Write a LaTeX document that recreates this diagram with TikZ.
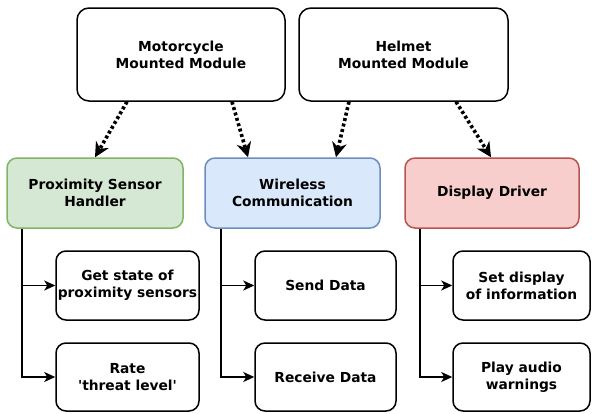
\documentclass[tikz,border=0pt]{standalone}
\usepackage{fontspec}
\setmainfont{DejaVu Sans}[Ligatures=TeXOff]
\usetikzlibrary{arrows.meta,positioning}

\definecolor{greenfill}{HTML}{D5E8D4}
\definecolor{greenline}{HTML}{82B366}
\definecolor{bluefill}{HTML}{DAE8FC}
\definecolor{blueline}{HTML}{6C8EBF}
\definecolor{redfill}{HTML}{F8CECC}
\definecolor{redline}{HTML}{B85450}

\tikzset{
  box/.style={draw=black, fill=white, line width=1.5pt, rounded corners=10pt,
    align=center, font=\fontsize{13.8}{17}\selectfont\bfseries,
    inner sep=0pt},
  modulebox/.style={box, minimum width=208pt, minimum height=93pt, rounded corners=12pt},
  taskbox/.style={box, minimum height=70pt},
  leafbox/.style={box, minimum height=69pt},
  dotarrow/.style={line width=3.6pt, dash pattern=on 3pt off 2.6pt,
    -{Stealth[length=15pt,width=15pt,inset=5pt,line width=0pt]}},
  treearrow/.style={line width=1.6pt, -{Stealth[length=11pt,width=10pt,inset=3pt]}},
}

\begin{document}
\begin{tikzpicture}[x=1pt,y=-1pt]
  \useasboundingbox (0,0) rectangle (592,413);

  % top modules
  \node[modulebox] (mm) at (181,54.5) {Motorcycle\\Mounted Module};
  \node[modulebox, minimum width=209pt] (hm) at (403.5,54.5) {Helmet\\Mounted Module};

  % software components
  \node[taskbox, minimum width=176pt, fill=greenfill, draw=greenline] (ps) at (95,193) {Proximity Sensor\\Handler};
  \node[taskbox, minimum width=175pt, fill=bluefill, draw=blueline] (wc) at (292.5,193) {Wireless\\Communication};
  \node[taskbox, minimum width=174pt, fill=redfill, draw=redline] (dd) at (492,193) {Display Driver};

  % leaf tasks
  \node[leafbox, minimum width=143pt] (g1) at (127.5,285.5) {Get state of\\proximity sensors};
  \node[leafbox, minimum width=143pt, minimum height=68pt] (r1) at (127.5,377) {Rate\\'threat level'};
  \node[leafbox, minimum width=141pt] (sd) at (325.5,285.5) {Send Data};
  \node[leafbox, minimum width=141pt, minimum height=68pt] (rd) at (325.5,377) {Receive Data};
  \node[leafbox, minimum width=137pt] (sdi) at (521.5,285.5) {Set display\\of information};
  \node[leafbox, minimum width=137pt, minimum height=68pt] (pa) at (521.5,377) {Play audio\\warnings};

  % module to component links
  \draw[dotarrow] ([xshift=-54pt]mm.south) -- (ps.north);
  \draw[dotarrow] ([xshift=51pt]mm.south) -- ([xshift=-44.5pt]wc.north);
  \draw[dotarrow] ([xshift=-54.5pt]hm.south) -- ([xshift=43.5pt]wc.north);
  \draw[dotarrow] ([xshift=52.5pt]hm.south) -- ([xshift=-1pt]dd.north);

  % component to task links
  \draw[treearrow] ([xshift=16pt]ps.south west) |- (g1.west);
  \draw[treearrow] ([xshift=16pt]ps.south west) |- (r1.west);
  \draw[treearrow] ([xshift=17pt]wc.south west) |- (sd.west);
  \draw[treearrow] ([xshift=17pt]wc.south west) |- (rd.west);
  \draw[treearrow] ([xshift=16pt]dd.south west) |- (sdi.west);
  \draw[treearrow] ([xshift=16pt]dd.south west) |- (pa.west);
\end{tikzpicture}
\end{document}
